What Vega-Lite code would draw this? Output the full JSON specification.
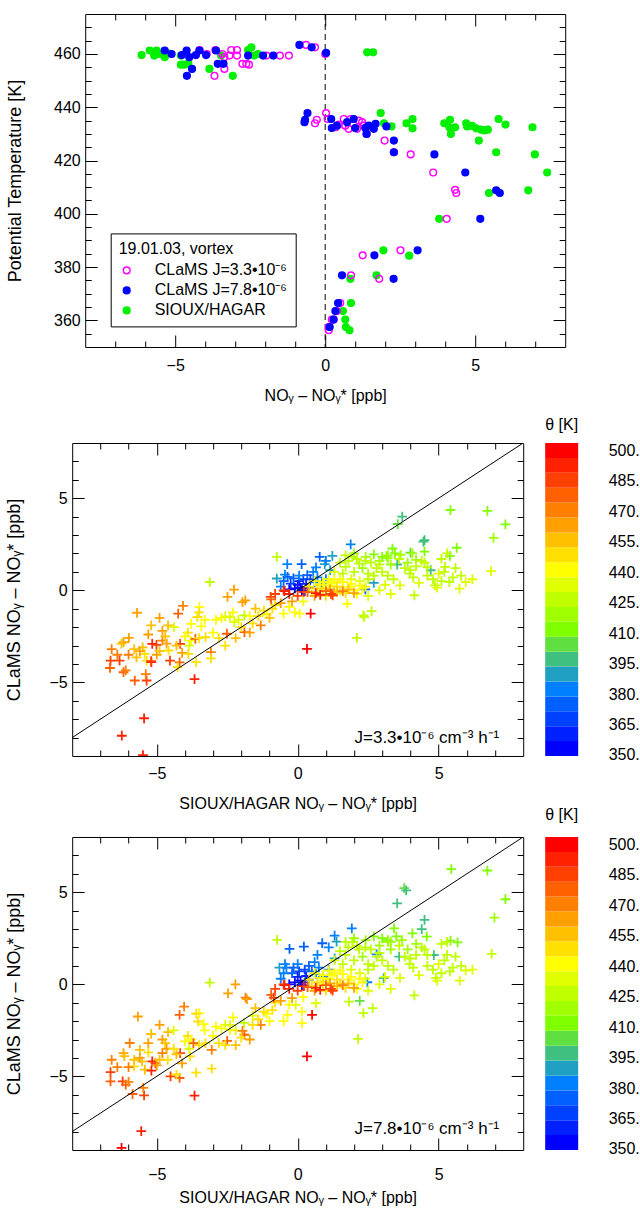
{
  "$schema": "https://vega.github.io/schema/vega-lite/v6.json",
  "padding": {"left": 4.2, "top": 13, "right": 0, "bottom": 0},
  "background": "white",
  "config": {
    "font": "Liberation Sans",
    "view": {"stroke": "#000", "strokeWidth": 1},
    "axis": {"grid": false, "domain": false, "labelFont": "Liberation Sans", "titleFont": "Liberation Sans", "labelFontSize": 16, "titleFontSize": 16, "titleFontWeight": "normal", "labelColor": "#000", "titleColor": "#000", "tickColor": "#000", "tickWidth": 1, "labelFlush": false, "labelOverlap": false},
    "title": {"font": "Liberation Sans", "fontSize": 16, "fontWeight": "normal", "color": "#000"},
    "text": {"font": "Liberation Sans"}
  },
  "datasets": {
    "top": [
      {"s":"C","x":-6.12,"t":459.6},{"s":"C","x":-5.85,"t":461.3},{"s":"C","x":-5.7,"t":459.4},{"s":"C","x":-5.62,"t":461.3},{"s":"C","x":-5.54,"t":460},{"s":"C","x":-5.35,"t":458.8},{"s":"C","x":-5.26,"t":460.3},{"s":"C","x":-4.81,"t":459.4},{"s":"C","x":-4.81,"t":456},{"s":"C","x":-4.7,"t":456},{"s":"C","x":-4.56,"t":456.3},{"s":"C","x":-3.86,"t":454.4},{"s":"C","x":-3.47,"t":459.4},{"s":"C","x":-3.08,"t":451.8},{"s":"C","x":-2.57,"t":461.5},{"s":"C","x":-2.46,"t":462.5},{"s":"C","x":-2.24,"t":460},{"s":"C","x":-2.37,"t":459.4},{"s":"C","x":1.4,"t":460.6},{"s":"C","x":1.6,"t":460.6},
      {"s":"C","x":1.85,"t":437.8},{"s":"C","x":1.96,"t":434},{"s":"C","x":2.21,"t":432.8},{"s":"C","x":2.71,"t":434},{"s":"C","x":2.91,"t":435.6},{"s":"C","x":2.91,"t":432.1},{"s":"C","x":3.97,"t":434},{"s":"C","x":4.16,"t":435.3},{"s":"C","x":4.14,"t":432.5},{"s":"C","x":4.33,"t":432.5},{"s":"C","x":4.19,"t":430},{"s":"C","x":4.7,"t":434},{"s":"C","x":4.73,"t":432.8},{"s":"C","x":4.9,"t":433},{"s":"C","x":5.03,"t":432.1},{"s":"C","x":5.2,"t":431.6},{"s":"C","x":5.31,"t":431.3},{"s":"C","x":5.42,"t":431.6},{"s":"C","x":5.12,"t":427.5},{"s":"C","x":5.78,"t":435.6},{"s":"C","x":6.01,"t":433.5},{"s":"C","x":6.91,"t":432.5},{"s":"C","x":5.7,"t":423.1},{"s":"C","x":6.99,"t":422.3},{"s":"C","x":7.4,"t":415.5},{"s":"C","x":5.46,"t":407.8},{"s":"C","x":6.77,"t":408.8},{"s":"C","x":3.8,"t":398.1},{"s":"C","x":1.94,"t":386.3},{"s":"C","x":2.8,"t":384.3},{"s":"C","x":0.84,"t":375.6},{"s":"C","x":1.71,"t":376.9},{"s":"C","x":0.86,"t":366.5},{"s":"C","x":0.59,"t":363.5},{"s":"C","x":0.67,"t":360.3},{"s":"C","x":0.69,"t":357.5},{"s":"C","x":0.81,"t":356.3},
      {"s":"A","x":-4.19,"t":461.5},{"s":"A","x":-3.95,"t":460},{"s":"A","x":-3.66,"t":461.5},{"s":"A","x":-3.43,"t":460},{"s":"A","x":-3.36,"t":458.8},{"s":"A","x":-3.69,"t":451.8},{"s":"A","x":-3.36,"t":454.4},{"s":"A","x":-3.19,"t":459.4},{"s":"A","x":-3.13,"t":461.5},{"s":"A","x":-2.94,"t":461.5},{"s":"A","x":-2.94,"t":459.4},{"s":"A","x":-2.76,"t":456.3},{"s":"A","x":-2.63,"t":456.3},{"s":"A","x":-2.54,"t":456},{"s":"A","x":-1.96,"t":459.4},{"s":"A","x":-1.51,"t":459.4},{"s":"A","x":-1.21,"t":459.4},{"s":"A","x":-0.64,"t":463.4},{"s":"A","x":-0.34,"t":462.5},{"s":"A","x":0.0,"t":460},
      {"s":"A","x":0.03,"t":437.8},{"s":"A","x":0.08,"t":435.6},{"s":"A","x":-0.34,"t":434},{"s":"A","x":-0.28,"t":435.3},{"s":"A","x":0.62,"t":435.6},{"s":"A","x":0.85,"t":435.6},{"s":"A","x":1.12,"t":435},{"s":"A","x":0.67,"t":433.1},{"s":"A","x":0.78,"t":431.9},{"s":"A","x":1.06,"t":431.9},{"s":"A","x":1.29,"t":433.1},{"s":"A","x":1.23,"t":434.4},{"s":"A","x":0.45,"t":433.5},{"s":"A","x":0.35,"t":432.5},{"s":"A","x":1.38,"t":430},{"s":"A","x":1.98,"t":427.5},{"s":"A","x":2.29,"t":423.1},{"s":"A","x":2.85,"t":422.3},{"s":"A","x":3.6,"t":415.5},{"s":"A","x":4.33,"t":409},{"s":"A","x":4.37,"t":407.8},{"s":"A","x":4.05,"t":398.1},{"s":"A","x":1.25,"t":384.4},{"s":"A","x":2.51,"t":386.3},{"s":"A","x":0.86,"t":376.9},{"s":"A","x":1.8,"t":375.6},{"s":"A","x":0.5,"t":366.5},{"s":"A","x":0.39,"t":363.5},{"s":"A","x":0.22,"t":360.3},{"s":"A","x":0.28,"t":360.3},{"s":"A","x":0.12,"t":357.5},{"s":"A","x":0.12,"t":356.3},
      {"s":"B","x":-5.35,"t":461.3},{"s":"B","x":-5.12,"t":460},{"s":"B","x":-4.78,"t":459.6},{"s":"B","x":-4.62,"t":461.3},{"s":"B","x":-4.53,"t":458.8},{"s":"B","x":-4.44,"t":454.4},{"s":"B","x":-4.61,"t":451.8},{"s":"B","x":-4.31,"t":459.6},{"s":"B","x":-4.19,"t":461.3},{"s":"B","x":-3.97,"t":459.6},{"s":"B","x":-3.64,"t":461.3},{"s":"B","x":-3.58,"t":456.3},{"s":"B","x":-3.39,"t":456.3},{"s":"B","x":-2.57,"t":459.4},{"s":"B","x":-2.07,"t":459.4},{"s":"B","x":-1.73,"t":459.4},{"s":"B","x":-0.86,"t":463.4},{"s":"B","x":-0.45,"t":462.5},{"s":"B","x":0.03,"t":460.4},
      {"s":"B","x":-0.69,"t":434.4},{"s":"B","x":-0.67,"t":435.3},{"s":"B","x":-0.59,"t":437.8},{"s":"B","x":0.2,"t":435.6},{"s":"B","x":0.22,"t":432.2},{"s":"B","x":0.39,"t":433.1},{"s":"B","x":0.73,"t":434.4},{"s":"B","x":0.95,"t":435.6},{"s":"B","x":1.0,"t":432.2},{"s":"B","x":1.34,"t":432.2},{"s":"B","x":1.45,"t":433.1},{"s":"B","x":1.62,"t":431.9},{"s":"B","x":1.68,"t":433.8},{"s":"B","x":1.38,"t":430},{"s":"B","x":2.04,"t":432.8},{"s":"B","x":2.29,"t":427.5},{"s":"B","x":2.29,"t":423.1},{"s":"B","x":3.64,"t":422.3},{"s":"B","x":4.67,"t":415.5},{"s":"B","x":5.7,"t":408.8},{"s":"B","x":5.82,"t":407.8},{"s":"B","x":5.17,"t":398.1},{"s":"B","x":1.64,"t":384.4},{"s":"B","x":3.08,"t":386.3},{"s":"B","x":0.56,"t":376.9},{"s":"B","x":2.28,"t":375.6},{"s":"B","x":0.43,"t":366.5},{"s":"B","x":0.34,"t":363.5},{"s":"B","x":0.28,"t":360.3},{"s":"B","x":0.15,"t":357.5}
    ],
    "mid": [
      {"x":-0.74,"y":0.64,"t":388},{"x":-0.37,"y":1.42,"t":380},{"x":0.14,"y":1.42,"t":376},{"x":0.78,"y":1.82,"t":378},{"x":1.23,"y":1.87,"t":390},{"x":1.88,"y":2.49,"t":382},{"x":0.96,"y":1.42,"t":388},{"x":1.15,"y":1.1,"t":392},{"x":-0.36,"y":0.73,"t":372},{"x":-0.25,"y":0.36,"t":368},{"x":0.0,"y":0.3,"t":360},{"x":0.1,"y":0.15,"t":356},{"x":-0.1,"y":0.1,"t":355},{"x":0.05,"y":0.5,"t":362},{"x":0.2,"y":0.6,"t":366},{"x":0.34,"y":0.82,"t":374},{"x":-0.5,"y":0.5,"t":378},{"x":-0.3,"y":0.05,"t":352},{"x":0.15,"y":0.0,"t":353},{"x":0.3,"y":0.35,"t":364},{"x":0.45,"y":0.6,"t":370},{"x":-0.15,"y":0.65,"t":375},{"x":0.6,"y":0.45,"t":384},{"x":0.7,"y":0.7,"t":380},{"x":0.25,"y":-0.05,"t":358},{"x":0.05,"y":0.8,"t":382},{"x":-0.45,"y":0.85,"t":384},{"x":0.55,"y":1.0,"t":386},{"x":0.85,"y":0.3,"t":372},{"x":1.0,"y":0.6,"t":386},{"x":-0.6,"y":0.2,"t":380},{"x":0.4,"y":0.15,"t":360},{"x":2.4,"y":0.05,"t":378},{"x":2.7,"y":0.4,"t":390},{"x":1.0,"y":1.6,"t":383},{"x":0.65,"y":1.25,"t":379},
      {"x":3.71,"y":4.0,"t":398},{"x":3.55,"y":3.6,"t":404},{"x":5.42,"y":4.36,"t":412},{"x":6.73,"y":4.31,"t":413},{"x":7.37,"y":3.58,"t":414},{"x":6.95,"y":2.85,"t":416},{"x":4.46,"y":2.64,"t":398},{"x":3.36,"y":2.27,"t":410},{"x":3.53,"y":1.4,"t":395},{"x":3.0,"y":1.82,"t":412},{"x":3.15,"y":1.85,"t":414},{"x":3.2,"y":1.75,"t":416},{"x":3.65,"y":1.93,"t":418},{"x":4.0,"y":2.05,"t":402},{"x":4.2,"y":1.65,"t":420},{"x":4.5,"y":2.1,"t":414},{"x":4.5,"y":2.73,"t":400},{"x":5.4,"y":1.87,"t":410},{"x":5.64,"y":2.31,"t":415},{"x":4.07,"y":2.0,"t":419},{"x":4.72,"y":1.09,"t":396},{"x":3.9,"y":1.5,"t":420},{"x":2.9,"y":1.6,"t":418},{"x":3.3,"y":1.4,"t":417},{"x":2.7,"y":1.95,"t":415},{"x":3.45,"y":2.0,"t":413},
      {"x":6.86,"y":1.04,"t":432},{"x":5.23,"y":1.27,"t":428},{"x":5.38,"y":0.45,"t":430},{"x":5.74,"y":0.09,"t":432},{"x":5.96,"y":0.45,"t":431},{"x":4.87,"y":0.27,"t":430},{"x":4.14,"y":-0.27,"t":428},{"x":3.63,"y":0.27,"t":432},{"x":3.97,"y":0.91,"t":430},{"x":4.1,"y":0.7,"t":428},{"x":4.3,"y":0.4,"t":434},{"x":4.6,"y":0.8,"t":427},{"x":4.8,"y":0.6,"t":429},{"x":5.0,"y":0.9,"t":431},{"x":5.1,"y":0.5,"t":426},{"x":4.95,"y":0.15,"t":433},{"x":5.2,"y":1.0,"t":427},{"x":5.5,"y":0.7,"t":429},{"x":4.6,"y":1.25,"t":426},{"x":4.4,"y":1.6,"t":425},{"x":5.1,"y":1.7,"t":423},{"x":5.3,"y":2.0,"t":424},{"x":4.0,"y":1.1,"t":427},{"x":3.4,"y":0.6,"t":430},{"x":3.1,"y":0.3,"t":433},{"x":2.9,"y":0.0,"t":435},{"x":3.3,"y":-0.2,"t":431},{"x":2.33,"y":-1.36,"t":429},{"x":2.62,"y":-1.13,"t":427},{"x":2.1,"y":-2.58,"t":425},{"x":2.36,"y":-1.45,"t":426},{"x":1.94,"y":1.82,"t":425},{"x":2.41,"y":1.82,"t":422},{"x":2.18,"y":1.45,"t":426},{"x":1.7,"y":1.27,"t":428},{"x":2.0,"y":1.0,"t":424},{"x":2.3,"y":1.2,"t":421},{"x":2.5,"y":0.9,"t":426},{"x":2.6,"y":1.5,"t":423},{"x":2.8,"y":1.2,"t":427},{"x":1.6,"y":0.9,"t":430},{"x":1.9,"y":0.6,"t":431},{"x":2.2,"y":0.5,"t":432},{"x":2.5,"y":0.6,"t":429},{"x":2.7,"y":0.8,"t":425},{"x":1.5,"y":1.5,"t":427},{"x":1.3,"y":1.0,"t":432},{"x":1.8,"y":1.6,"t":424},{"x":2.1,"y":1.7,"t":428},{"x":-0.74,"y":1.82,"t":425},{"x":-3.12,"y":0.45,"t":428},{"x":3.0,"y":1.0,"t":426},{"x":3.2,"y":0.8,"t":428},{"x":2.4,"y":0.2,"t":434},
      {"x":3.6,"y":1.7,"t":424},{"x":3.8,"y":1.2,"t":426},{"x":4.2,"y":1.3,"t":423},{"x":4.5,"y":1.5,"t":424},{"x":5.6,"y":1.2,"t":427},{"x":5.8,"y":0.8,"t":430},{"x":6.2,"y":0.6,"t":431},{"x":3.2,"y":1.9,"t":422},{"x":2.9,"y":1.4,"t":425},{"x":2.4,"y":1.6,"t":423},{"x":2.0,"y":2.0,"t":421},{"x":1.7,"y":1.9,"t":424},
      {"x":0.8,"y":0.3,"t":440},{"x":1.0,"y":0.1,"t":443},{"x":1.2,"y":0.4,"t":441},{"x":1.4,"y":0.2,"t":445},{"x":1.6,"y":0.45,"t":438},{"x":1.8,"y":0.2,"t":442},{"x":2.0,"y":0.0,"t":440},{"x":2.2,"y":0.25,"t":439},{"x":1.1,"y":0.6,"t":438},{"x":0.9,"y":0.0,"t":447},{"x":1.3,"y":-0.1,"t":446},{"x":1.76,"y":-0.73,"t":440},{"x":0.6,"y":0.5,"t":442},{"x":0.4,"y":0.2,"t":448},{"x":-0.1,"y":-1.2,"t":443},{"x":0.07,"y":-1.27,"t":441},{"x":-0.5,"y":-1.27,"t":443},{"x":1.5,"y":0.6,"t":439},{"x":2.1,"y":-0.2,"t":441},{"x":1.0,"y":-0.3,"t":449},{"x":0.2,"y":-0.6,"t":444},{"x":-0.3,"y":-0.9,"t":441},{"x":-0.8,"y":-0.8,"t":446},{"x":-1.1,"y":-1.3,"t":442},
      {"x":0.7,"y":0.1,"t":445},{"x":1.1,"y":0.25,"t":444},{"x":1.5,"y":0.0,"t":446},{"x":1.9,"y":0.35,"t":441},{"x":2.3,"y":0.1,"t":438},{"x":1.3,"y":0.5,"t":440},{"x":0.5,"y":-0.1,"t":450},{"x":1.7,"y":-0.15,"t":448},{"x":2.5,"y":-0.3,"t":437},{"x":0.9,"y":0.45,"t":439},
      {"x":1.4,"y":-0.1,"t":458},{"x":1.8,"y":0.05,"t":456},{"x":2.0,"y":-0.15,"t":462},{"x":0.6,"y":-0.3,"t":465},{"x":1.15,"y":0.05,"t":460},
      {"x":-0.96,"y":-0.36,"t":482},{"x":-0.5,"y":0.0,"t":486},{"x":0.22,"y":-0.09,"t":495},{"x":0.64,"y":-0.15,"t":490},{"x":1.18,"y":-0.2,"t":484},{"x":1.6,"y":-0.05,"t":470},{"x":1.24,"y":-0.27,"t":482},{"x":0.46,"y":-1.27,"t":498},{"x":-0.94,"y":-0.49,"t":478},{"x":-0.8,"y":-0.2,"t":485},{"x":-0.3,"y":-0.2,"t":492},{"x":0.0,"y":-0.3,"t":488},{"x":0.35,"y":-0.1,"t":480},{"x":0.8,"y":-0.25,"t":492},{"x":1.0,"y":-0.05,"t":476},{"x":-0.47,"y":-0.04,"t":490},{"x":-0.2,"y":-0.6,"t":466},{"x":-0.6,"y":-0.7,"t":462},{"x":0.33,"y":-3.18,"t":497},
      {"x":-2.49,"y":-0.36,"t":465},{"x":-2.26,"y":0.04,"t":462},{"x":-1.96,"y":-0.64,"t":460},{"x":-1.86,"y":-0.55,"t":464},{"x":-1.5,"y":-1.0,"t":455},{"x":-1.31,"y":-1.91,"t":468},{"x":-1.89,"y":-2.27,"t":478},{"x":-2.51,"y":-2.36,"t":476},{"x":-2.57,"y":-1.42,"t":432},{"x":-2.4,"y":-1.45,"t":435},{"x":-1.89,"y":-1.36,"t":430},{"x":-2.25,"y":-1.73,"t":434},{"x":-2.1,"y":-1.6,"t":437},{"x":-1.7,"y":-1.4,"t":440},{"x":-2.7,"y":-1.5,"t":438},{"x":-1.2,"y":-1.1,"t":450},{"x":-1.0,"y":-1.5,"t":455},{"x":-2.0,"y":-2.0,"t":445},{"x":-2.57,"y":-3.0,"t":448},{"x":-2.8,"y":-2.6,"t":450},{"x":-1.6,"y":-1.8,"t":452},{"x":-3.27,"y":-2.55,"t":445},{"x":-3.08,"y":-3.36,"t":470},{"x":-3.08,"y":-3.7,"t":448},{"x":-3.0,"y":-2.3,"t":440},
      {"x":-2.9,"y":-1.6,"t":440},{"x":-2.3,"y":-1.2,"t":438},{"x":-3.3,"y":-1.6,"t":444},{"x":-4.6,"y":-1.9,"t":455},{"x":-4.8,"y":-2.2,"t":462},{"x":-5.3,"y":-2.4,"t":466},{"x":-6.6,"y":-3.2,"t":470},{"x":-6.4,"y":-3.5,"t":474},{"x":-4.9,"y":-1.5,"t":460},{"x":-5.2,"y":-1.9,"t":458},{"x":-1.4,"y":-1.4,"t":448},{"x":-0.9,"y":-1.0,"t":452},{"x":-2.2,"y":-2.6,"t":456},{"x":-1.7,"y":-2.3,"t":462},{"x":-3.6,"y":-3.9,"t":452},{"x":-4.1,"y":-3.4,"t":460},
      {"x":-5.7,"y":-1.22,"t":466},{"x":-4.24,"y":-1.27,"t":476},{"x":-4.07,"y":-0.85,"t":470},{"x":-3.49,"y":-0.91,"t":442},{"x":-3.56,"y":-1.45,"t":445},{"x":-3.78,"y":-1.82,"t":442},{"x":-3.42,"y":-1.96,"t":440},{"x":-3.5,"y":-1.2,"t":450},{"x":-4.39,"y":-2.0,"t":436},{"x":-3.9,"y":-2.3,"t":446},{"x":-6.18,"y":-2.82,"t":462},{"x":-5.99,"y":-2.58,"t":466},{"x":-6.25,"y":-2.9,"t":458},{"x":-5.5,"y":-3.1,"t":455},{"x":-5.43,"y":-3.45,"t":452},{"x":-5.72,"y":-3.64,"t":458},{"x":-5.36,"y":-3.82,"t":450},{"x":-5.6,"y":-3.3,"t":460},{"x":-5.16,"y":-2.91,"t":490},{"x":-5.01,"y":-2.96,"t":486},{"x":-5.19,"y":-3.9,"t":494},{"x":-5.2,"y":-3.85,"t":488},{"x":-4.8,"y":-2.73,"t":470},{"x":-4.65,"y":-2.9,"t":465},{"x":-4.17,"y":-2.91,"t":482},{"x":-4.58,"y":-3.27,"t":448},{"x":-4.3,"y":-3.0,"t":455},{"x":-3.78,"y":-2.73,"t":440},{"x":-3.85,"y":-3.0,"t":436},{"x":-3.88,"y":-3.45,"t":445},{"x":-3.63,"y":-2.64,"t":476},{"x":-3.5,"y":-2.6,"t":450},{"x":-4.0,"y":-2.5,"t":444},{"x":-6.64,"y":-3.82,"t":485},{"x":-6.66,"y":-4.22,"t":478},{"x":-6.32,"y":-3.82,"t":484},{"x":-6.18,"y":-4.45,"t":476},{"x":-6.1,"y":-4.35,"t":470},{"x":-5.78,"y":-4.9,"t":480},{"x":-5.36,"y":-4.9,"t":482},{"x":-5.39,"y":-4.55,"t":474},{"x":-4.53,"y":-3.82,"t":484},{"x":-4.19,"y":-3.91,"t":478},{"x":-4.26,"y":-4.18,"t":445},{"x":-3.66,"y":-4.82,"t":494},{"x":-5.45,"y":-6.95,"t":492},{"x":-6.24,"y":-7.9,"t":494},{"x":-5.49,"y":-8.95,"t":496},{"x":-4.7,"y":-2.5,"t":458},{"x":-5.0,"y":-3.5,"t":462},{"x":-4.9,"y":-3.3,"t":454},{"x":-5.8,"y":-3.2,"t":455},{"x":-6.0,"y":-3.5,"t":468}
    ],
    "bot": [
      {"x":-0.29,"y":1.92,"t":378},{"x":0.22,"y":2.05,"t":378},{"x":0.87,"y":2.23,"t":375},{"x":1.31,"y":2.64,"t":384},{"x":1.38,"y":2.32,"t":392},{"x":1.92,"y":3.04,"t":382},{"x":-0.65,"y":0.91,"t":390},{"x":-0.4,"y":0.9,"t":380},{"x":-0.2,"y":0.6,"t":372},{"x":0.0,"y":0.4,"t":362},{"x":0.1,"y":0.2,"t":356},{"x":-0.1,"y":0.1,"t":354},{"x":0.05,"y":0.7,"t":366},{"x":0.25,"y":0.8,"t":370},{"x":0.4,"y":1.0,"t":376},{"x":-0.5,"y":0.6,"t":380},{"x":-0.3,"y":0.0,"t":352},{"x":0.15,"y":-0.05,"t":353},{"x":0.3,"y":0.45,"t":364},{"x":0.5,"y":0.7,"t":372},{"x":-0.15,"y":0.9,"t":378},{"x":0.65,"y":0.55,"t":384},{"x":0.75,"y":0.9,"t":380},{"x":0.25,"y":0.1,"t":358},{"x":0.0,"y":1.1,"t":383},{"x":-0.45,"y":1.1,"t":385},{"x":0.6,"y":1.2,"t":386},{"x":0.9,"y":0.4,"t":372},{"x":1.1,"y":0.8,"t":386},{"x":-0.6,"y":0.3,"t":380},{"x":0.4,"y":0.25,"t":360},{"x":1.31,"y":1.41,"t":392},{"x":2.8,"y":1.63,"t":380},{"x":2.47,"y":0.11,"t":380},{"x":3.05,"y":0.33,"t":395},{"x":4.83,"y":1.59,"t":396},{"x":1.1,"y":2.0,"t":385},{"x":0.7,"y":1.6,"t":380},
      {"x":3.78,"y":5.22,"t":402},{"x":3.85,"y":5.1,"t":400},{"x":3.53,"y":4.4,"t":400},{"x":5.45,"y":6.25,"t":410},{"x":6.73,"y":6.18,"t":412},{"x":7.37,"y":4.62,"t":414},{"x":6.98,"y":3.62,"t":418},{"x":4.5,"y":3.5,"t":398},{"x":3.42,"y":3.04,"t":410},{"x":4.07,"y":2.77,"t":412},{"x":4.58,"y":2.59,"t":415},{"x":5.42,"y":2.37,"t":412},{"x":5.67,"y":2.28,"t":414},{"x":3.0,"y":2.5,"t":413},{"x":3.2,"y":2.4,"t":415},{"x":3.3,"y":2.3,"t":417},{"x":3.7,"y":2.4,"t":418},{"x":4.2,"y":2.2,"t":420},{"x":4.4,"y":3.0,"t":400},{"x":3.9,"y":1.9,"t":419},{"x":2.9,"y":2.1,"t":418},{"x":3.3,"y":1.9,"t":416},{"x":2.7,"y":2.6,"t":415},{"x":3.5,"y":2.6,"t":412},{"x":2.2,"y":-0.9,"t":405},{"x":3.6,"y":1.5,"t":396},
      {"x":6.88,"y":1.65,"t":430},{"x":5.3,"y":1.6,"t":428},{"x":5.4,"y":0.7,"t":430},{"x":5.75,"y":0.2,"t":432},{"x":5.96,"y":0.75,"t":431},{"x":4.9,"y":0.35,"t":430},{"x":4.14,"y":-0.6,"t":428},{"x":3.63,"y":0.35,"t":432},{"x":3.97,"y":1.1,"t":430},{"x":4.1,"y":0.9,"t":428},{"x":4.3,"y":0.5,"t":434},{"x":4.6,"y":1.0,"t":427},{"x":4.8,"y":0.8,"t":429},{"x":5.0,"y":1.1,"t":431},{"x":5.1,"y":0.6,"t":426},{"x":4.95,"y":0.2,"t":433},{"x":5.2,"y":1.3,"t":427},{"x":5.5,"y":0.9,"t":429},{"x":4.6,"y":1.6,"t":426},{"x":4.4,"y":2.0,"t":425},{"x":5.1,"y":2.2,"t":423},{"x":5.3,"y":2.3,"t":424},{"x":4.0,"y":1.4,"t":427},{"x":3.4,"y":0.8,"t":430},{"x":3.1,"y":0.4,"t":433},{"x":2.9,"y":0.0,"t":435},{"x":3.3,"y":-0.25,"t":431},{"x":2.33,"y":-1.57,"t":429},{"x":2.66,"y":-1.3,"t":427},{"x":2.14,"y":-2.96,"t":425},{"x":1.82,"y":-0.94,"t":430},{"x":0.65,"y":-1.03,"t":432},{"x":-0.07,"y":-1.12,"t":434},{"x":1.94,"y":2.3,"t":425},{"x":2.41,"y":2.4,"t":422},{"x":2.18,"y":1.9,"t":426},{"x":1.7,"y":1.6,"t":428},{"x":2.0,"y":1.3,"t":424},{"x":2.3,"y":1.5,"t":421},{"x":2.5,"y":1.1,"t":426},{"x":2.6,"y":1.9,"t":423},{"x":2.8,"y":1.5,"t":427},{"x":1.6,"y":1.1,"t":430},{"x":1.9,"y":0.8,"t":431},{"x":2.2,"y":0.6,"t":432},{"x":2.5,"y":0.8,"t":429},{"x":2.7,"y":1.0,"t":425},{"x":1.5,"y":1.8,"t":427},{"x":1.3,"y":1.3,"t":432},{"x":1.8,"y":2.0,"t":424},{"x":2.1,"y":2.1,"t":428},{"x":-0.73,"y":2.41,"t":425},{"x":-3.12,"y":0.09,"t":428},{"x":3.0,"y":1.3,"t":426},{"x":3.2,"y":1.0,"t":428},{"x":2.4,"y":0.3,"t":434},{"x":-2.57,"y":-2.2,"t":432},{"x":-2.4,"y":-2.2,"t":435},{"x":-2.2,"y":-2.5,"t":434},{"x":-1.9,"y":-2.1,"t":430},{"x":-2.7,"y":-2.4,"t":438},{"x":-1.6,"y":-1.7,"t":436},
      {"x":3.6,"y":2.1,"t":424},{"x":3.8,"y":1.5,"t":426},{"x":4.2,"y":1.6,"t":423},{"x":4.5,"y":1.9,"t":424},{"x":5.6,"y":1.5,"t":427},{"x":5.8,"y":1.0,"t":430},{"x":6.2,"y":0.8,"t":431},{"x":3.2,"y":2.3,"t":422},{"x":2.9,"y":1.7,"t":425},{"x":2.4,"y":2.0,"t":423},{"x":2.0,"y":2.5,"t":421},{"x":1.7,"y":2.3,"t":424},
      {"x":0.8,"y":0.35,"t":440},{"x":1.0,"y":0.15,"t":443},{"x":1.2,"y":0.5,"t":441},{"x":1.4,"y":0.25,"t":445},{"x":1.6,"y":0.55,"t":438},{"x":1.8,"y":0.25,"t":442},{"x":2.0,"y":0.0,"t":440},{"x":2.2,"y":0.3,"t":439},{"x":1.1,"y":0.75,"t":438},{"x":0.9,"y":0.0,"t":447},{"x":1.3,"y":-0.1,"t":446},{"x":0.6,"y":0.6,"t":442},{"x":0.4,"y":0.25,"t":448},{"x":0.15,"y":-1.48,"t":440},{"x":-0.36,"y":-1.66,"t":440},{"x":-0.5,"y":-2.0,"t":442},{"x":0.15,"y":-2.11,"t":443},{"x":1.5,"y":0.75,"t":439},{"x":2.1,"y":-0.25,"t":441},{"x":1.0,"y":-0.35,"t":449},{"x":0.2,"y":-0.7,"t":444},{"x":-0.3,"y":-1.1,"t":441},{"x":-0.8,"y":-1.0,"t":446},{"x":-1.1,"y":-1.6,"t":442},{"x":-1.0,"y":-2.0,"t":444},
      {"x":0.7,"y":0.1,"t":445},{"x":1.1,"y":0.3,"t":444},{"x":1.5,"y":0.05,"t":446},{"x":1.9,"y":0.4,"t":441},{"x":2.3,"y":0.1,"t":438},{"x":1.3,"y":0.6,"t":440},{"x":0.5,"y":-0.1,"t":450},{"x":1.7,"y":-0.2,"t":448},{"x":2.5,"y":-0.35,"t":437},{"x":0.9,"y":0.5,"t":439},
      {"x":1.4,"y":-0.1,"t":458},{"x":1.8,"y":0.05,"t":456},{"x":2.0,"y":-0.2,"t":462},{"x":0.6,"y":-0.35,"t":465},{"x":1.15,"y":0.05,"t":460},
      {"x":-0.94,"y":-0.58,"t":478},{"x":-0.85,"y":-0.72,"t":482},{"x":-0.5,"y":0.0,"t":486},{"x":0.22,"y":-0.1,"t":495},{"x":0.64,"y":-0.2,"t":490},{"x":1.18,"y":-0.25,"t":484},{"x":1.6,"y":-0.05,"t":470},{"x":1.24,"y":-0.35,"t":482},{"x":0.51,"y":-1.66,"t":497},{"x":-0.8,"y":-0.25,"t":485},{"x":-0.3,"y":-0.25,"t":492},{"x":0.0,"y":-0.35,"t":488},{"x":0.35,"y":-0.15,"t":480},{"x":0.8,"y":-0.3,"t":492},{"x":1.0,"y":-0.05,"t":476},{"x":-0.47,"y":-0.05,"t":490},{"x":-0.2,"y":-0.75,"t":466},{"x":-0.6,"y":-0.9,"t":462},{"x":0.33,"y":-3.92,"t":497},
      {"x":-2.47,"y":-0.49,"t":465},{"x":-2.21,"y":0.0,"t":462},{"x":-1.85,"y":-0.72,"t":470},{"x":-1.8,"y":-0.8,"t":466},{"x":-1.5,"y":-1.3,"t":455},{"x":-1.31,"y":-2.2,"t":468},{"x":-1.89,"y":-2.74,"t":478},{"x":-1.96,"y":-2.53,"t":470},{"x":-2.5,"y":-3.07,"t":480},{"x":-2.0,"y":-2.9,"t":448},{"x":-2.57,"y":-3.3,"t":448},{"x":-2.8,"y":-3.2,"t":450},{"x":-1.6,"y":-2.2,"t":452},{"x":-3.27,"y":-3.2,"t":445},{"x":-3.05,"y":-3.56,"t":470},{"x":-3.05,"y":-4.58,"t":448},{"x":-3.0,"y":-2.8,"t":440},{"x":-1.2,"y":-1.5,"t":450},{"x":-2.4,"y":-2.47,"t":440},
      {"x":-2.9,"y":-2.3,"t":440},{"x":-2.3,"y":-1.8,"t":438},{"x":-3.3,"y":-2.5,"t":444},{"x":-4.6,"y":-2.6,"t":455},{"x":-4.8,"y":-3.0,"t":462},{"x":-5.3,"y":-3.2,"t":466},{"x":-6.6,"y":-4.1,"t":470},{"x":-6.4,"y":-4.5,"t":474},{"x":-4.9,"y":-2.2,"t":460},{"x":-5.2,"y":-2.7,"t":458},{"x":-1.4,"y":-1.9,"t":448},{"x":-0.9,"y":-1.4,"t":452},{"x":-2.2,"y":-3.3,"t":456},{"x":-1.7,"y":-3.0,"t":462},{"x":-3.6,"y":-4.8,"t":452},{"x":-4.1,"y":-4.3,"t":460},
      {"x":-5.67,"y":-1.75,"t":463},{"x":-4.19,"y":-1.66,"t":478},{"x":-4.03,"y":-1.21,"t":472},{"x":-3.49,"y":-1.57,"t":442},{"x":-3.53,"y":-2.02,"t":445},{"x":-3.34,"y":-2.17,"t":440},{"x":-3.6,"y":-1.6,"t":450},{"x":-4.4,"y":-2.5,"t":436},{"x":-3.9,"y":-2.8,"t":446},{"x":-5.96,"y":-3.19,"t":470},{"x":-6.18,"y":-3.74,"t":462},{"x":-6.15,"y":-3.9,"t":458},{"x":-5.6,"y":-3.56,"t":455},{"x":-5.3,"y":-3.7,"t":452},{"x":-5.52,"y":-4.19,"t":458},{"x":-5.81,"y":-4.46,"t":450},{"x":-5.42,"y":-4.64,"t":455},{"x":-5.6,"y":-4.0,"t":460},{"x":-5.16,"y":-4.19,"t":490},{"x":-5.05,"y":-4.3,"t":486},{"x":-5.19,"y":-4.69,"t":494},{"x":-4.8,"y":-3.74,"t":470},{"x":-4.65,"y":-3.5,"t":465},{"x":-4.17,"y":-3.74,"t":482},{"x":-4.61,"y":-4.1,"t":448},{"x":-4.3,"y":-3.8,"t":455},{"x":-3.78,"y":-3.01,"t":440},{"x":-3.85,"y":-3.5,"t":436},{"x":-3.82,"y":-3.92,"t":445},{"x":-3.7,"y":-3.2,"t":476},{"x":-3.5,"y":-3.3,"t":450},{"x":-4.0,"y":-3.1,"t":444},{"x":-6.64,"y":-4.77,"t":485},{"x":-6.64,"y":-5.27,"t":478},{"x":-6.21,"y":-5.27,"t":484},{"x":-6.1,"y":-5.45,"t":476},{"x":-6.0,"y":-5.3,"t":470},{"x":-5.86,"y":-5.96,"t":480},{"x":-5.45,"y":-6.03,"t":482},{"x":-5.48,"y":-5.63,"t":474},{"x":-4.51,"y":-5.0,"t":484},{"x":-4.19,"y":-5.09,"t":478},{"x":-4.3,"y":-4.9,"t":445},{"x":-3.66,"y":-6.05,"t":494},{"x":-5.55,"y":-7.98,"t":492},{"x":-6.25,"y":-8.88,"t":498},{"x":-4.7,"y":-3.2,"t":458},{"x":-5.0,"y":-4.4,"t":462},{"x":-4.9,"y":-4.1,"t":454},{"x":-5.8,"y":-4.1,"t":455},{"x":-6.0,"y":-4.5,"t":468},{"x":-4.4,"y":-3.5,"t":446}
    ],
    "bands": [
      {"lo":349.5,"hi":356.83,"mid":353.17},{"lo":356.83,"hi":364.17,"mid":360.5},{"lo":364.17,"hi":371.5,"mid":367.83},{"lo":371.5,"hi":378.83,"mid":375.17},{"lo":378.83,"hi":386.17,"mid":382.5},{"lo":386.17,"hi":393.5,"mid":389.83},{"lo":393.5,"hi":400.83,"mid":397.17},{"lo":400.83,"hi":408.17,"mid":404.5},{"lo":408.17,"hi":415.5,"mid":411.83},{"lo":415.5,"hi":422.83,"mid":419.17},{"lo":422.83,"hi":430.17,"mid":426.5},{"lo":430.17,"hi":437.5,"mid":433.83},{"lo":437.5,"hi":444.83,"mid":441.17},{"lo":444.83,"hi":452.17,"mid":448.5},{"lo":452.17,"hi":459.5,"mid":455.83},{"lo":459.5,"hi":466.83,"mid":463.17},{"lo":466.83,"hi":474.17,"mid":470.5},{"lo":474.17,"hi":481.5,"mid":477.83},{"lo":481.5,"hi":488.83,"mid":485.17},{"lo":488.83,"hi":496.17,"mid":492.5},{"lo":496.17,"hi":503.5,"mid":499.83}
    ]
  },
  "concat": [
    {
      "hconcat": [
        {"width": 1, "height": 1, "view": {"stroke": null}, "data": {"values": []}, "mark": "point"},
        {
          "width": 480, "height": 333,
          "data": {"name": "top"},
          "layer": [
            {"mark": {"type": "point", "opacity": 0, "clip": true},
             "encoding": {
               "x": {"field": "x", "type": "quantitative", "scale": {"domain": [-8, 8], "nice": false, "zero": false},
                     "axis": {"orient": "bottom", "labels": false, "title": null, "values": [-5, 0, 5], "tickSize": 12, "offset": -12}},
               "y": {"field": "t", "type": "quantitative", "scale": {"domain": [350, 475], "nice": false, "zero": false},
                     "axis": {"orient": "left", "labels": false, "title": null, "values": [360, 380, 400, 420, 440, 460], "tickSize": 12, "offset": -12}}
             }},
            {"mark": {"type": "point", "opacity": 0, "clip": true},
             "encoding": {
               "x": {"field": "x", "type": "quantitative", "scale": {"domain": [-8, 8], "nice": false, "zero": false},
                     "axis": {"orient": "bottom", "labels": false, "title": null, "values": [-7,-6,-4,-3,-2,-1,1,2,3,4,6,7], "tickSize": 6, "offset": -6}},
               "y": {"field": "t", "type": "quantitative", "scale": {"domain": [350, 475], "nice": false, "zero": false},
                     "axis": {"orient": "left", "labels": false, "title": null, "values": [355,365,370,375,385,390,395,405,410,415,425,430,435,445,450,455,465,470], "tickSize": 6, "offset": -6}}
             }},
            {"mark": {"type": "point", "opacity": 0, "clip": true},
             "encoding": {
               "x": {"field": "x", "type": "quantitative", "scale": {"domain": [-8, 8], "nice": false, "zero": false},
                     "axis": {"orient": "top", "labels": false, "title": null, "values": [-5, 0, 5], "tickSize": 12, "offset": -12}},
               "y": {"field": "t", "type": "quantitative", "scale": {"domain": [350, 475], "nice": false, "zero": false},
                     "axis": {"orient": "right", "labels": false, "title": null, "values": [360, 380, 400, 420, 440, 460], "tickSize": 12, "offset": -12}}
             }},
            {"mark": {"type": "point", "opacity": 0, "clip": true},
             "encoding": {
               "x": {"field": "x", "type": "quantitative", "scale": {"domain": [-8, 8], "nice": false, "zero": false},
                     "axis": {"orient": "top", "labels": false, "title": null, "values": [-7,-6,-4,-3,-2,-1,1,2,3,4,6,7], "tickSize": 6, "offset": -6}},
               "y": {"field": "t", "type": "quantitative", "scale": {"domain": [350, 475], "nice": false, "zero": false},
                     "axis": {"orient": "right", "labels": false, "title": null, "values": [355,365,370,375,385,390,395,405,410,415,425,430,435,445,450,455,465,470], "tickSize": 6, "offset": -6}}
             }},
            {"data": {"values": [{"v": 0}]},
             "mark": {"type": "rule", "strokeDash": [6, 4], "color": "#000", "strokeWidth": 1},
             "encoding": {"x": {"field": "v", "type": "quantitative", "scale": {"domain": [-8, 8], "nice": false, "zero": false}, "axis": null}}},
            {"mark": {"type": "point", "shape": "circle", "size": 46, "strokeWidth": 1.4, "opacity": 1, "clip": true},
             "encoding": {
               "x": {"field": "x", "type": "quantitative", "scale": {"domain": [-8, 8], "nice": false, "zero": false},
                     "axis": {"orient": "bottom", "values": [-5, 0, 5], "format": "d", "ticks": false, "labelPadding": 10, "title": "NOᵧ – NOᵧ* [ppb]", "titlePadding": 14}},
               "y": {"field": "t", "type": "quantitative", "scale": {"domain": [350, 475], "nice": false, "zero": false},
                     "axis": {"orient": "left", "values": [360, 380, 400, 420, 440, 460], "format": "d", "ticks": false, "labelPadding": 5, "title": "Potential Temperature [K]", "titleFontSize": 18, "titlePadding": 29}},
               "fill": {"field": "s", "type": "nominal", "scale": {"domain": ["A", "B", "C"], "range": ["rgba(0,0,0,0)", "#0000ff", "#00f000"]},
                        "legend": {"orient": "none", "legendX": 106.5, "legendY": 219.4, "title": "19.01.03, vortex", "labelExpr": "datum.label === 'A' ? 'CLaMS J=3.3•10⁻⁶' : datum.label === 'B' ? 'CLaMS J=7.8•10⁻⁶' : 'SIOUX/HAGAR'", "symbolType": "circle", "symbolSize": 46, "symbolStrokeWidth": 1.4, "labelOffset": 20, "rowPadding": 4, "padding": 8, "strokeColor": "#000", "fillColor": "#fff", "titleFontSize": 16, "titleFontWeight": "normal", "labelFontSize": 16, "titlePadding": 5, "labelColor": "#000", "titleColor": "#000", "titleFont": "Liberation Sans", "labelFont": "Liberation Sans"}},
               "stroke": {"field": "s", "type": "nominal", "scale": {"domain": ["A", "B", "C"], "range": ["#ff00ff", "#0000ff", "#00f000"]},
                        "legend": {"orient": "none", "legendX": 106.5, "legendY": 219.4, "title": "19.01.03, vortex", "labelExpr": "datum.label === 'A' ? 'CLaMS J=3.3•10⁻⁶' : datum.label === 'B' ? 'CLaMS J=7.8•10⁻⁶' : 'SIOUX/HAGAR'", "symbolType": "circle", "symbolSize": 46, "symbolStrokeWidth": 1.4, "labelOffset": 20, "rowPadding": 4, "padding": 8, "strokeColor": "#000", "fillColor": "#fff", "titleFontSize": 16, "titleFontWeight": "normal", "labelFontSize": 16, "titlePadding": 5, "labelColor": "#000", "titleColor": "#000", "titleFont": "Liberation Sans", "labelFont": "Liberation Sans"}}
             }}
          ],
          "resolve": {"axis": {"x": "independent", "y": "independent"}}
        }
      ],
      "spacing": 0
    },
    {
      "concat": [
        {
          "hconcat": [
            {"width": 1, "height": 1, "view": {"stroke": null}, "data": {"values": []}, "mark": "point"},
            {
              "hconcat": [
                {
                  "width": 451, "height": 313,
                  "data": {"name": "mid"},
                  "layer": [
                    {"mark": {"type": "point", "opacity": 0, "clip": true},
                     "encoding": {
                       "x": {"field": "x", "type": "quantitative", "scale": {"domain": [-8, 8], "nice": false, "zero": false},
                             "axis": {"orient": "bottom", "labels": false, "title": null, "values": [-5, 0, 5], "tickSize": 12, "offset": -12}},
                       "y": {"field": "y", "type": "quantitative", "scale": {"domain": [-9, 8], "nice": false, "zero": false},
                             "axis": {"orient": "left", "labels": false, "title": null, "values": [-5, 0, 5], "tickSize": 12, "offset": -12}}
                     }},
                    {"mark": {"type": "point", "opacity": 0, "clip": true},
                     "encoding": {
                       "x": {"field": "x", "type": "quantitative", "scale": {"domain": [-8, 8], "nice": false, "zero": false},
                             "axis": {"orient": "bottom", "labels": false, "title": null, "values": [-7,-6,-4,-3,-2,-1,1,2,3,4,6,7], "tickSize": 6, "offset": -6}},
                       "y": {"field": "y", "type": "quantitative", "scale": {"domain": [-9, 8], "nice": false, "zero": false},
                             "axis": {"orient": "left", "labels": false, "title": null, "values": [-8,-7,-6,-4,-3,-2,-1,1,2,3,4,6,7], "tickSize": 6, "offset": -6}}
                     }},
                    {"mark": {"type": "point", "opacity": 0, "clip": true},
                     "encoding": {
                       "x": {"field": "x", "type": "quantitative", "scale": {"domain": [-8, 8], "nice": false, "zero": false},
                             "axis": {"orient": "top", "labels": false, "title": null, "values": [-5, 0, 5], "tickSize": 12, "offset": -12}},
                       "y": {"field": "y", "type": "quantitative", "scale": {"domain": [-9, 8], "nice": false, "zero": false},
                             "axis": {"orient": "right", "labels": false, "title": null, "values": [-5, 0, 5], "tickSize": 12, "offset": -12}}
                     }},
                    {"mark": {"type": "point", "opacity": 0, "clip": true},
                     "encoding": {
                       "x": {"field": "x", "type": "quantitative", "scale": {"domain": [-8, 8], "nice": false, "zero": false},
                             "axis": {"orient": "top", "labels": false, "title": null, "values": [-7,-6,-4,-3,-2,-1,1,2,3,4,6,7], "tickSize": 6, "offset": -6}},
                       "y": {"field": "y", "type": "quantitative", "scale": {"domain": [-9, 8], "nice": false, "zero": false},
                             "axis": {"orient": "right", "labels": false, "title": null, "values": [-8,-7,-6,-4,-3,-2,-1,1,2,3,4,6,7], "tickSize": 6, "offset": -6}}
                     }},
                    {"mark": {"type": "point", "shape": "M-1,0L1,0M0,-1L0,1", "size": 95, "strokeWidth": 1.8, "filled": false, "opacity": 1, "clip": true},
                     "encoding": {
                       "x": {"field": "x", "type": "quantitative", "scale": {"domain": [-8, 8], "nice": false, "zero": false},
                             "axis": {"orient": "bottom", "values": [-5, 0, 5], "format": "d", "ticks": false, "labelPadding": 10, "title": "SIOUX/HAGAR NOᵧ – NOᵧ* [ppb]", "titlePadding": 14}},
                       "y": {"field": "y", "type": "quantitative", "scale": {"domain": [-9, 8], "nice": false, "zero": false},
                             "axis": {"orient": "left", "values": [-5, 0, 5], "format": "d", "ticks": false, "labelPadding": 5, "title": "CLaMS NOᵧ – NOᵧ* [ppb]", "titleFontSize": 18, "titlePadding": 25}},
                       "stroke": {"field": "t", "type": "quantitative", "scale": {"type": "threshold", "domain": [356.83,364.17,371.5,378.83,386.17,393.5,400.83,408.17,415.5,422.83,430.17,437.5,444.83,452.17,459.5,466.83,474.17,481.5,488.83,496.17], "range": ["#0000ff","#0020ff","#0040ff","#0060ff","#0080ff","#20a0c0","#40c080","#60e040","#80ff00","#a0ff00","#c0ff00","#e0ff00","#ffff00","#ffe000","#ffc000","#ffa000","#ff8000","#ff6000","#ff4000","#ff2000","#ff0000"]}, "legend": null}
                     }},
                    {"data": {"values": [{"a": -8}, {"a": 8}]},
                     "mark": {"type": "line", "color": "#000", "strokeWidth": 1, "clip": true},
                     "encoding": {
                       "x": {"field": "a", "type": "quantitative", "scale": {"domain": [-8, 8], "nice": false, "zero": false}, "axis": null},
                       "y": {"field": "a", "type": "quantitative", "scale": {"domain": [-9, 8], "nice": false, "zero": false}, "axis": null}
                     }},
                    {"data": {"values": [{"label": "J=3.3•10⁻⁶ cm⁻³ h⁻¹"}]},
                     "mark": {"type": "text", "align": "right", "baseline": "middle", "fontSize": 17, "color": "#000", "font": "Liberation Sans"},
                     "encoding": {
                       "x": {"datum": 7.15, "type": "quantitative", "scale": {"domain": [-8, 8], "nice": false, "zero": false}, "axis": null},
                       "y": {"datum": -8, "type": "quantitative", "scale": {"domain": [-9, 8], "nice": false, "zero": false}, "axis": null},
                       "text": {"field": "label", "type": "nominal"}
                     }}
                  ],
                  "resolve": {"axis": {"x": "independent", "y": "independent"}}
                },
                {
                  "width": 33, "height": 313,
                  "view": {"stroke": null},
                  "data": {"name": "bands"},
                  "title": {"text": "θ [K]", "frame": "group", "anchor": "middle", "offset": 9, "fontSize": 16, "fontWeight": "normal"},
                  "mark": {"type": "rect"},
                  "encoding": {
                    "y": {"field": "lo", "type": "quantitative", "scale": {"domain": [349.5, 503.5], "nice": false, "zero": false},
                          "axis": {"orient": "right", "values": [350,365,380,395,410,425,440,455,470,485,500], "labelExpr": "datum.value + '.'", "ticks": false, "labelPadding": 30, "title": null}},
                    "y2": {"field": "hi"},
                    "fill": {"field": "mid", "type": "quantitative", "scale": {"type": "threshold", "domain": [356.83,364.17,371.5,378.83,386.17,393.5,400.83,408.17,415.5,422.83,430.17,437.5,444.83,452.17,459.5,466.83,474.17,481.5,488.83,496.17], "range": ["#0000ff","#0020ff","#0040ff","#0060ff","#0080ff","#20a0c0","#40c080","#60e040","#80ff00","#a0ff00","#c0ff00","#e0ff00","#ffff00","#ffe000","#ffc000","#ffa000","#ff8000","#ff6000","#ff4000","#ff2000","#ff0000"]}, "legend": null}
                  }
                }
              ],
              "spacing": 21
            }
          ],
          "spacing": 0
        },
        {
          "hconcat": [
            {"width": 1, "height": 1, "view": {"stroke": null}, "data": {"values": []}, "mark": "point"},
            {
              "hconcat": [
                {
                  "width": 451, "height": 313,
                  "data": {"name": "bot"},
                  "layer": [
                    {"mark": {"type": "point", "opacity": 0, "clip": true},
                     "encoding": {
                       "x": {"field": "x", "type": "quantitative", "scale": {"domain": [-8, 8], "nice": false, "zero": false},
                             "axis": {"orient": "bottom", "labels": false, "title": null, "values": [-5, 0, 5], "tickSize": 12, "offset": -12}},
                       "y": {"field": "y", "type": "quantitative", "scale": {"domain": [-9, 8], "nice": false, "zero": false},
                             "axis": {"orient": "left", "labels": false, "title": null, "values": [-5, 0, 5], "tickSize": 12, "offset": -12}}
                     }},
                    {"mark": {"type": "point", "opacity": 0, "clip": true},
                     "encoding": {
                       "x": {"field": "x", "type": "quantitative", "scale": {"domain": [-8, 8], "nice": false, "zero": false},
                             "axis": {"orient": "bottom", "labels": false, "title": null, "values": [-7,-6,-4,-3,-2,-1,1,2,3,4,6,7], "tickSize": 6, "offset": -6}},
                       "y": {"field": "y", "type": "quantitative", "scale": {"domain": [-9, 8], "nice": false, "zero": false},
                             "axis": {"orient": "left", "labels": false, "title": null, "values": [-8,-7,-6,-4,-3,-2,-1,1,2,3,4,6,7], "tickSize": 6, "offset": -6}}
                     }},
                    {"mark": {"type": "point", "opacity": 0, "clip": true},
                     "encoding": {
                       "x": {"field": "x", "type": "quantitative", "scale": {"domain": [-8, 8], "nice": false, "zero": false},
                             "axis": {"orient": "top", "labels": false, "title": null, "values": [-5, 0, 5], "tickSize": 12, "offset": -12}},
                       "y": {"field": "y", "type": "quantitative", "scale": {"domain": [-9, 8], "nice": false, "zero": false},
                             "axis": {"orient": "right", "labels": false, "title": null, "values": [-5, 0, 5], "tickSize": 12, "offset": -12}}
                     }},
                    {"mark": {"type": "point", "opacity": 0, "clip": true},
                     "encoding": {
                       "x": {"field": "x", "type": "quantitative", "scale": {"domain": [-8, 8], "nice": false, "zero": false},
                             "axis": {"orient": "top", "labels": false, "title": null, "values": [-7,-6,-4,-3,-2,-1,1,2,3,4,6,7], "tickSize": 6, "offset": -6}},
                       "y": {"field": "y", "type": "quantitative", "scale": {"domain": [-9, 8], "nice": false, "zero": false},
                             "axis": {"orient": "right", "labels": false, "title": null, "values": [-8,-7,-6,-4,-3,-2,-1,1,2,3,4,6,7], "tickSize": 6, "offset": -6}}
                     }},
                    {"mark": {"type": "point", "shape": "M-1,0L1,0M0,-1L0,1", "size": 95, "strokeWidth": 1.8, "filled": false, "opacity": 1, "clip": true},
                     "encoding": {
                       "x": {"field": "x", "type": "quantitative", "scale": {"domain": [-8, 8], "nice": false, "zero": false},
                             "axis": {"orient": "bottom", "values": [-5, 0, 5], "format": "d", "ticks": false, "labelPadding": 17, "title": "SIOUX/HAGAR NOᵧ – NOᵧ* [ppb]", "titlePadding": 7}},
                       "y": {"field": "y", "type": "quantitative", "scale": {"domain": [-9, 8], "nice": false, "zero": false},
                             "axis": {"orient": "left", "values": [-5, 0, 5], "format": "d", "ticks": false, "labelPadding": 5, "title": "CLaMS NOᵧ – NOᵧ* [ppb]", "titleFontSize": 18, "titlePadding": 25}},
                       "stroke": {"field": "t", "type": "quantitative", "scale": {"type": "threshold", "domain": [356.83,364.17,371.5,378.83,386.17,393.5,400.83,408.17,415.5,422.83,430.17,437.5,444.83,452.17,459.5,466.83,474.17,481.5,488.83,496.17], "range": ["#0000ff","#0020ff","#0040ff","#0060ff","#0080ff","#20a0c0","#40c080","#60e040","#80ff00","#a0ff00","#c0ff00","#e0ff00","#ffff00","#ffe000","#ffc000","#ffa000","#ff8000","#ff6000","#ff4000","#ff2000","#ff0000"]}, "legend": null}
                     }},
                    {"data": {"values": [{"a": -8}, {"a": 8}]},
                     "mark": {"type": "line", "color": "#000", "strokeWidth": 1, "clip": true},
                     "encoding": {
                       "x": {"field": "a", "type": "quantitative", "scale": {"domain": [-8, 8], "nice": false, "zero": false}, "axis": null},
                       "y": {"field": "a", "type": "quantitative", "scale": {"domain": [-9, 8], "nice": false, "zero": false}, "axis": null}
                     }},
                    {"data": {"values": [{"label": "J=7.8•10⁻⁶ cm⁻³ h⁻¹"}]},
                     "mark": {"type": "text", "align": "right", "baseline": "middle", "fontSize": 17, "color": "#000", "font": "Liberation Sans"},
                     "encoding": {
                       "x": {"datum": 7.15, "type": "quantitative", "scale": {"domain": [-8, 8], "nice": false, "zero": false}, "axis": null},
                       "y": {"datum": -7.85, "type": "quantitative", "scale": {"domain": [-9, 8], "nice": false, "zero": false}, "axis": null},
                       "text": {"field": "label", "type": "nominal"}
                     }}
                  ],
                  "resolve": {"axis": {"x": "independent", "y": "independent"}}
                },
                {
                  "width": 33, "height": 313,
                  "view": {"stroke": null},
                  "data": {"name": "bands"},
                  "title": {"text": "θ [K]", "frame": "group", "anchor": "middle", "offset": 13, "fontSize": 16, "fontWeight": "normal"},
                  "mark": {"type": "rect"},
                  "encoding": {
                    "y": {"field": "lo", "type": "quantitative", "scale": {"domain": [349.5, 503.5], "nice": false, "zero": false},
                          "axis": {"orient": "right", "values": [350,365,380,395,410,425,440,455,470,485,500], "labelExpr": "datum.value + '.'", "ticks": false, "labelPadding": 30, "title": null}},
                    "y2": {"field": "hi"},
                    "fill": {"field": "mid", "type": "quantitative", "scale": {"type": "threshold", "domain": [356.83,364.17,371.5,378.83,386.17,393.5,400.83,408.17,415.5,422.83,430.17,437.5,444.83,452.17,459.5,466.83,474.17,481.5,488.83,496.17], "range": ["#0000ff","#0020ff","#0040ff","#0060ff","#0080ff","#20a0c0","#40c080","#60e040","#80ff00","#a0ff00","#c0ff00","#e0ff00","#ffff00","#ffe000","#ffc000","#ffa000","#ff8000","#ff6000","#ff4000","#ff2000","#ff0000"]}, "legend": null}
                  }
                }
              ],
              "spacing": 21
            }
          ],
          "spacing": 0
        }
      ],
      "columns": 1,
      "align": "none",
      "spacing": -6
    }
  ],
  "columns": 1,
  "align": "none",
  "spacing": 13
}
